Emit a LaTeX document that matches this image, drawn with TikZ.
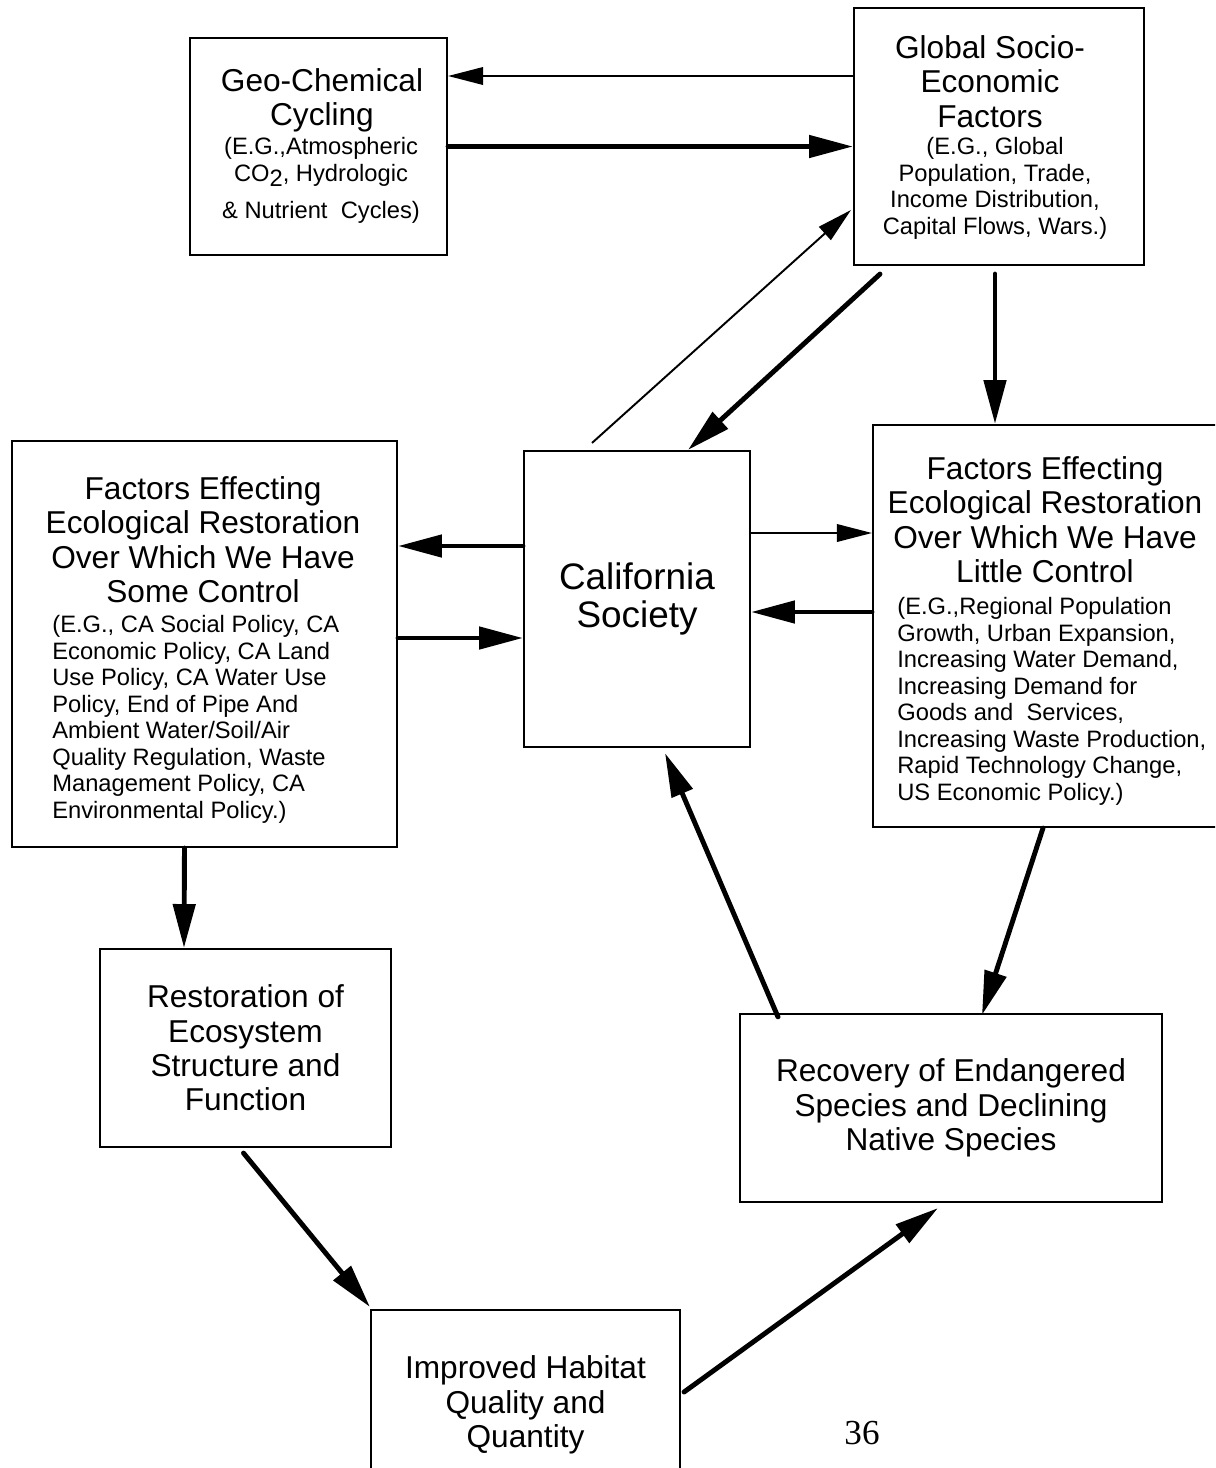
\documentclass[tikz,border=0pt]{standalone}
\usepackage{fontspec}
\setmainfont{Liberation Sans}
\newfontfamily\pagefont{Liberation Serif}
\usetikzlibrary{arrows.meta,calc}
\def\pxu{0.02cm}
\newcommand\headsize{\fontsize{18}{19.6}\selectfont}
\newcommand\detsize{\fontsize{13.5}{15.1}\selectfont}
\newcommand\calsize{\fontsize{21}{21.5}\selectfont}

\begin{document}
\begin{tikzpicture}[x=0.02cm,y=-0.02cm,
		box/.style 2 args={draw, line width=1.2pt, minimum width=#1*\pxu, minimum height=#2*\pxu, inner sep=0pt, align=center},
		head/.style={align=center, inner sep=0pt, font=\headsize},
		detail/.style={align=center, inner sep=0pt, font=\detsize},
		detlist/.style={align=left, inner sep=0pt, font=\detsize},
		thinarr/.style={line width=1.1pt, -{Triangle[length=20pt,width=10pt]}},
		thickarr/.style={line width=2.8pt, line cap=round, -{Triangle[length=25pt,width=12.5pt]}}]
			%%%%% START %%%%%
			\useasboundingbox (0,0) rectangle (1215,1468);
			\clip (0,0) rectangle (1215,1468);
			
			\node[box={257}{217}] (geo) at (318.5,146.5) {};
			\node[box={290}{257}] (glob) at (999,136.5) {};
			\node[box={385}{406}] (leftf) at (204.5,644) {};
			\node[box={226}{296}, font=\calsize] (cal) at (637,599) {California\\Society};
			\node[box={352}{402}] (rightf) at (1049,626) {};
			\node[box={291}{198}, font=\headsize] (restor) at (245.5,1048) {Restoration of\\Ecosystem\\Structure and\\Function};
			\node[box={422}{188}, font=\headsize] (recov) at (951,1108) {Recovery of Endangered\\Species and Declining\\Native Species};
			\node[box={309}{190}, font=\headsize] (habitat) at (525.5,1405) {Improved Habitat\\Quality and\\Quantity};
			
			\node[head, anchor=north] (geoHead) at (322,68) {Geo-Chemical\\Cycling};
			\node[detail, anchor=north] (geoDet) at (321,137) {(E.G.,Atmospheric\\CO\raisebox{-0.45ex}{2}, Hydrologic\\[6pt]\& Nutrient~ Cycles)};
			
			\node[head, anchor=north] (globHead) at (990,35) {Global Socio-\\Economic\\Factors};
			\node[detail, anchor=north] (globDet) at (995,137) {(E.G., Global\\Population, Trade,\\Income Distribution,\\Capital Flows, Wars.)};
			
			\node[head, anchor=north] (leftHead) at (203,476) {Factors Effecting\\Ecological Restoration\\Over Which We Have\\Some Control};
			\node[detlist, anchor=north west] (leftDet) at (52,615) {(E.G., CA Social Policy, CA\\Economic Policy, CA Land\\Use Policy, CA Water Use\\Policy, End of Pipe And\\Ambient Water/Soil/Air\\Quality Regulation, Waste\\Management Policy, CA\\Environmental Policy.)};
			
			\node[head, anchor=north] (rightHead) at (1045,456) {Factors Effecting\\Ecological Restoration\\Over Which We Have\\Little Control};
			\node[detlist, anchor=north west] (rightDet) at (897,597) {(E.G.,Regional Population\\Growth, Urban Expansion,\\Increasing Water Demand,\\Increasing Demand for\\Goods and~ Services,\\Increasing Waste Production,\\Rapid Technology Change,\\US Economic Policy.)};
			
			\node[font=\pagefont\fontsize{20}{22}\selectfont] (pagenum) at (862,1433) {36};
			
			% top row
			\draw[thinarr] ($(glob.west)+(0,-60.5)$) -- ($(geo.east)+(0,-70.5)$);
			\draw[thickarr] (geo.east) -- (geo.east -| glob.west);
			\draw[thinarr] ($(cal.north)+(-45,-7)$) -- ($(glob.west)+(-2,73.5)$);
			\draw[thickarr] ($(glob.south)+(-119,8)$) -- ($(cal.north)+(51,0)$);
			\draw[thickarr] ($(glob.south)+(-4,8)$) -- ($(rightf.north)+(-54,0)$);
			
			% middle row
			\draw[thickarr] ($(cal.west)+(0,-53)$) -- ($(leftf.east)+(0,-98)$);
			\draw[thickarr] ($(leftf.east)+(0,-6)$) -- ($(cal.west)+(0,39)$);
			\draw[thinarr] ($(cal.east)+(0,-66)$) -- ($(rightf.west)+(0,-93)$);
			\draw[thickarr] ($(rightf.west)+(0,-14)$) -- ($(cal.east)+(0,13)$);
			
			% lower loop
			\draw[thickarr] ($(leftf.south)+(-20,0)$) -- ($(restor.north)+(-61.5,0)$);
			\draw[thickarr] ($(recov.north)+(-173,4)$) -- ($(cal.south)+(28,5)$);
			\draw[thickarr] ($(rightf.south)+(-6,0)$) -- ($(recov.north)+(31,2)$);
			\draw[thickarr] ($(restor.south)+(-2,5)$) -- ($(habitat.north west)+(0,-2)$);
			\draw[thickarr] ($(habitat.east)+(3,-13)$) -- ($(recov.south)+(-13,5)$);
			%%%%% END %%%%%
		\end{tikzpicture}
\end{document}
